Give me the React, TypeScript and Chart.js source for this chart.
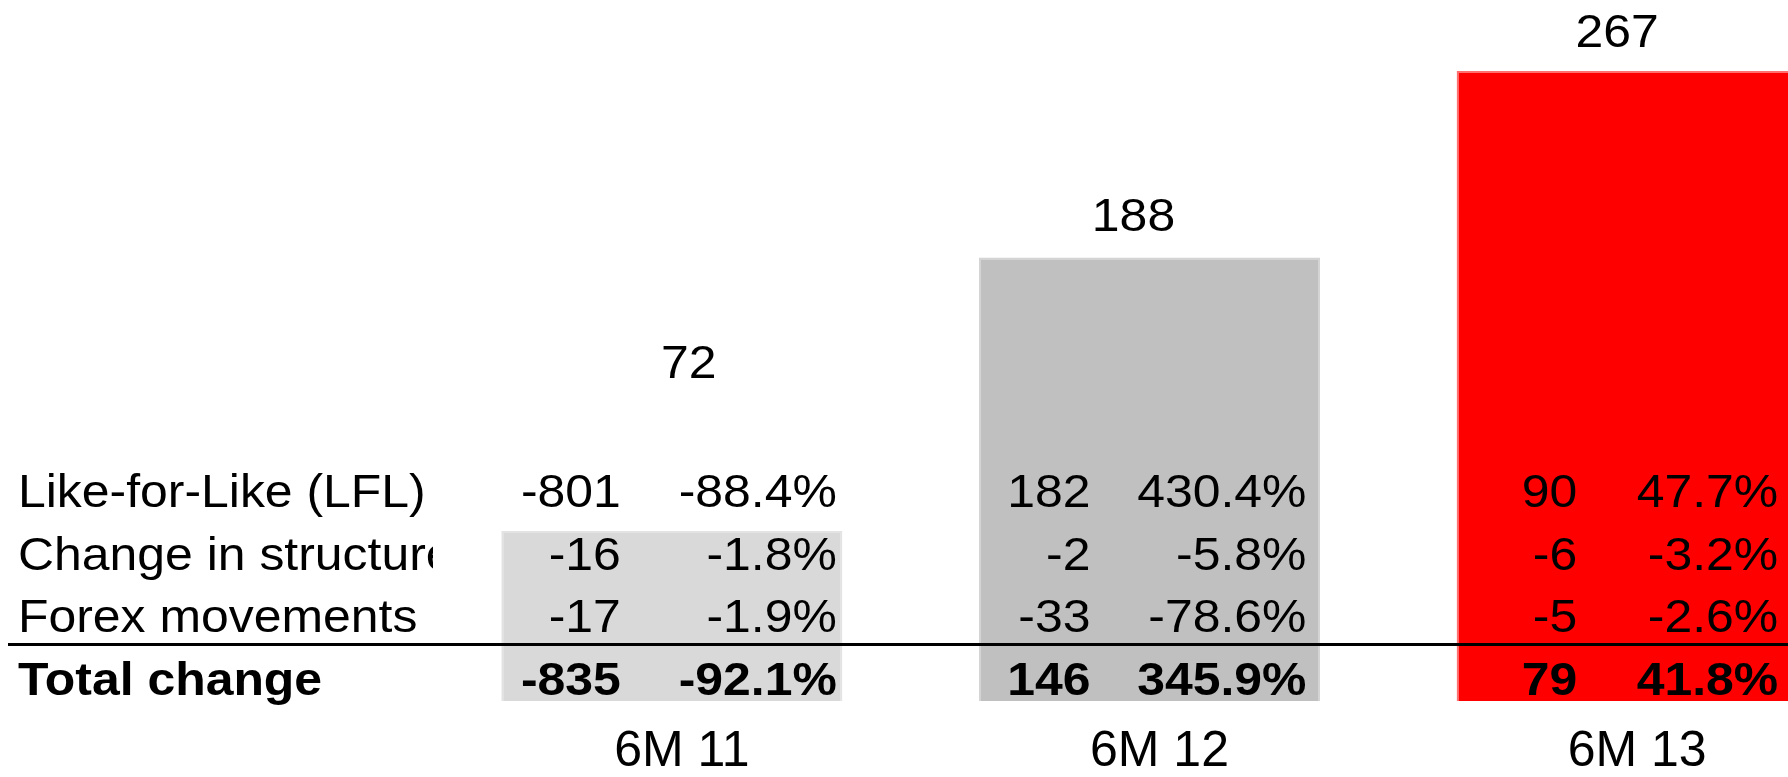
import React, { useEffect, useRef } from 'react';
import { Chart, registerables } from 'chart.js';

Chart.register(...registerables);

// ---- data ----
const categories = ['6M 11', '6M 12', '6M 13'];
const totals = [72, 188, 267];
const rowLabels = ['Like-for-Like (LFL)', 'Change in structure', 'Forex movements', 'Total change'];
const lflValues = [-801, 182, 90];
const lflPercents = [-88.4, 430.4, 47.7];
const structureValues = [-16, -2, -6];
const structurePercents = [-1.8, -5.8, -3.2];
const forexValues = [-17, -33, -5];
const forexPercents = [-1.9, -78.6, -2.6];
const totalChangeValues = [-835, 146, 79];
const totalChangePercents = [-92.1, 345.9, 41.8];

const barColors = ['#d9d9d9', '#c0c0c0', '#ff0000'];
const barEdgeColors = ['#e3e3e3', '#d4d4d4', '#ff7070'];

const FONT_FAMILY = '"Liberation Sans", Arial, Helvetica, sans-serif';
const FONT_SIZE = 46;
const TEXT_STRETCH = 1.085;
const TICK_FONT_SIZE = 50;

const tableRows = [
  { label: rowLabels[0], values: lflValues, percents: lflPercents, bold: false },
  { label: rowLabels[1], values: structureValues, percents: structurePercents, bold: false },
  { label: rowLabels[2], values: forexValues, percents: forexPercents, bold: false },
  { label: rowLabels[3], values: totalChangeValues, percents: totalChangePercents, bold: true },
];

const fmtPct = (v: number) => v.toFixed(1) + '%';

// layout constants for the overlay (not data)
const ROW_PITCH = 62.7;
const LAST_ROW_BASE_OFFSET = 6; // above chart bottom
const RULE_OFFSET = 57; // above chart bottom
const NUM_DX = [-51, -59, -50];
const PCT_DX = [165, 157, 151];
const LABEL_LIFT = [153, 26, 24];
const LABEL_DX = [17, -16, -10];

function drawStretched(ctx: CanvasRenderingContext2D, text: string, x: number, y: number) {
  ctx.save();
  ctx.translate(x, y);
  ctx.scale(TEXT_STRETCH, 1);
  ctx.fillText(text, 0, 0);
  ctx.restore();
}

const overlayPlugin = {
  id: 'overlayTable',
  afterDatasetsDraw(chart: any) {
    const { ctx, chartArea } = chart;
    const meta = chart.getDatasetMeta(0);
    const bars = meta.data;
    ctx.save();
    ctx.fillStyle = '#000000';
    ctx.textBaseline = 'alphabetic';

    const n = tableRows.length;
    tableRows.forEach((row, r) => {
      const y = chartArea.bottom - LAST_ROW_BASE_OFFSET - (n - 1 - r) * ROW_PITCH;
      ctx.font = (row.bold ? 'bold ' : '') + FONT_SIZE + 'px ' + FONT_FAMILY;
      // row label, clipped to the area left of the first column
      ctx.save();
      ctx.beginPath();
      ctx.rect(0, 0, chartArea.left, chart.height);
      ctx.clip();
      ctx.textAlign = 'left';
      drawStretched(ctx, row.label, 18, y);
      ctx.restore();
      ctx.textAlign = 'right';
      bars.forEach((bar: any, i: number) => {
        drawStretched(ctx, String(row.values[i]), bar.x + NUM_DX[i], y);
        drawStretched(ctx, fmtPct(row.percents[i]), bar.x + PCT_DX[i], y);
      });
    });

    // rule above the total row
    const ly = Math.round(chartArea.bottom - RULE_OFFSET) + 0.5;
    ctx.strokeStyle = '#000000';
    ctx.lineWidth = 3;
    ctx.beginPath();
    ctx.moveTo(8, ly);
    ctx.lineTo(chart.width, ly);
    ctx.stroke();

    // value labels above the bars
    ctx.font = FONT_SIZE + 'px ' + FONT_FAMILY;
    ctx.textAlign = 'center';
    bars.forEach((bar: any, i: number) => {
      drawStretched(ctx, String(totals[i]), bar.x + LABEL_DX[i], bar.y - LABEL_LIFT[i]);
    });
    ctx.restore();
  },
};

export default function App() {
  const canvasRef = useRef<HTMLCanvasElement | null>(null);

  useEffect(() => {
    const canvas = canvasRef.current;
    if (!canvas) return;
    Chart.defaults.font.family = FONT_FAMILY;
    const chart = new Chart(canvas, {
      type: 'bar',
      data: {
        labels: categories,
        datasets: [
          {
            data: totals,
            backgroundColor: barColors,
            borderColor: barEdgeColors,
            borderWidth: 2,
            categoryPercentage: 0.714,
            barPercentage: 1,
          },
        ],
      },
      options: {
        responsive: false,
        animation: false,
        layout: { padding: { left: 433, top: 71, right: 0, bottom: 0 } },
        plugins: {
          legend: { display: false },
          tooltip: { enabled: false },
          title: { display: false },
        },
        scales: {
          x: {
            grid: { display: false, drawTicks: false },
            border: { display: false },
            ticks: {
              color: '#000000',
              font: { size: TICK_FONT_SIZE, family: FONT_FAMILY, lineHeight: 1 },
              padding: 26,
              labelOffset: 10,
              maxRotation: 0,
              autoSkip: false,
            },
          },
          y: { display: false, min: 0, max: 267 },
        },
      },
      plugins: [overlayPlugin],
    } as any);
    return () => chart.destroy();
  }, []);

  return (
    <div
      style={{
        position: 'absolute',
        left: 0,
        top: 0,
        width: 1788,
        height: 777,
        overflow: 'hidden',
        background: '#ffffff',
      }}
    >
      <canvas
        ref={canvasRef}
        width={1866}
        height={803}
        style={{ display: 'block', width: 1866, height: 803 }}
      />
    </div>
  );
}
